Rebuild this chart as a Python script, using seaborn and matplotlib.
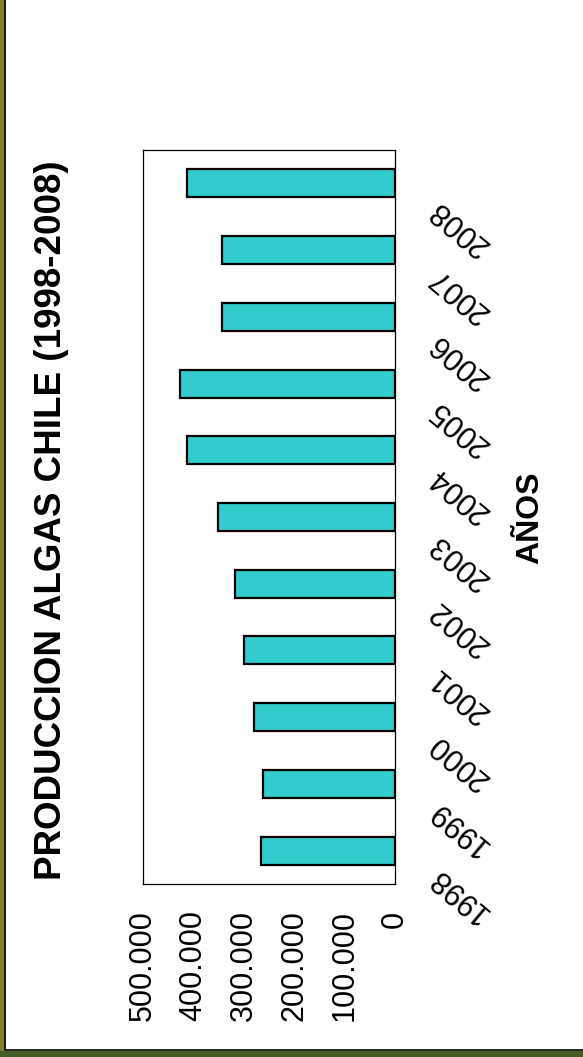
#!/usr/bin/env python3
import matplotlib
matplotlib.use("Agg")
import matplotlib.pyplot as plt
import matplotlib.patches as mpatches
import pandas as pd
import seaborn as sns

years = ["2008", "2007", "2006", "2005", "2004", "2003", "2002", "2001", "2000", "1999", "1998"]
production = [412000, 343000, 343000, 426000, 412000, 351000, 317000, 300000, 280000, 262000, 266000]

value_ticks = [0, 100000, 200000, 300000, 400000, 500000]
value_labels = ["0", "100.000", "200.000", "300.000", "400.000", "500.000"]

title = "PRODUCCION ALGAS CHILE (1998-2008)"
axis_label = "AÑOS"

W, H = 583, 1057

sns.set_style("white")
plt.rcParams["font.family"] = ["Liberation Sans", "DejaVu Sans"]
plt.rcParams["text.color"] = "black"
plt.rcParams["xtick.color"] = "black"
plt.rcParams["ytick.color"] = "black"


def main():
    df = pd.DataFrame({"year": years, "value": production})

    fig = plt.figure(figsize=(W / 100, H / 100), dpi=100)
    fig.patch.set_facecolor("white")

    # olive frame on the left and bottom edges
    fig.patches.append(mpatches.Rectangle((0, 0), 4 / W, 1, transform=fig.transFigure,
                                          facecolor="#7e7f2f", edgecolor="none", zorder=0))
    fig.patches.append(mpatches.Rectangle((4 / W, 7 / H), 1.5 / W, 1, transform=fig.transFigure,
                                          facecolor="#1e1e14", edgecolor="none", zorder=0))
    fig.patches.append(mpatches.Rectangle((0, 0), 1, 6 / H, transform=fig.transFigure,
                                          facecolor="#445b26", edgecolor="none", zorder=0))
    fig.patches.append(mpatches.Rectangle((4 / W, 6 / H), 1, 2 / H, transform=fig.transFigure,
                                          facecolor="#2a2a22", edgecolor="none", zorder=0))

    ax = fig.add_axes([143 / W, 1 - 884 / H, 252 / W, 734 / H])
    sns.barplot(data=df, x="value", y="year", order=years, orient="h",
                color="#33CCCC", saturation=1, edgecolor="black", linewidth=1.6,
                width=0.42, ax=ax)

    ax.set_xlim(500000, 0)
    ax.set_ylim(len(years) - 0.5, -0.5)

    ax.set_xticks(value_ticks)
    ax.set_xticklabels(value_labels, rotation=90, ha="center", va="top", fontsize=22,
                       color="black")
    ax.tick_params(axis="x", direction="out", length=7, width=0.9, pad=12, colors="black")
    ax.tick_params(axis="y", left=False, right=False, labelleft=False)
    ax.set_xlabel("")
    ax.set_ylabel("")

    for side in ["left", "right", "top", "bottom"]:
        ax.spines[side].set_visible(True)
        ax.spines[side].set_color("black")
        ax.spines[side].set_linewidth(0.9)

    # year labels, placed beside the zero line
    for i, yr in enumerate(years):
        ax.annotate(yr, xy=(0, i), xycoords="data", xytext=(38, -22),
                    textcoords="offset pixels", rotation=140, rotation_mode="anchor",
                    ha="right", va="center", fontsize=22, color="black",
                    annotation_clip=False)

    fig.text(52 / W, 1 - 520 / H, title, rotation=90, ha="center", va="center",
             fontsize=26.5, fontweight="bold", color="black")
    fig.text(530 / W, 1 - 518 / H, axis_label, rotation=90, ha="center", va="center",
             fontsize=23, fontweight="bold", color="black")

    fig.savefig("out.png", dpi=100)
    plt.close(fig)


if __name__ == "__main__":
    main()
